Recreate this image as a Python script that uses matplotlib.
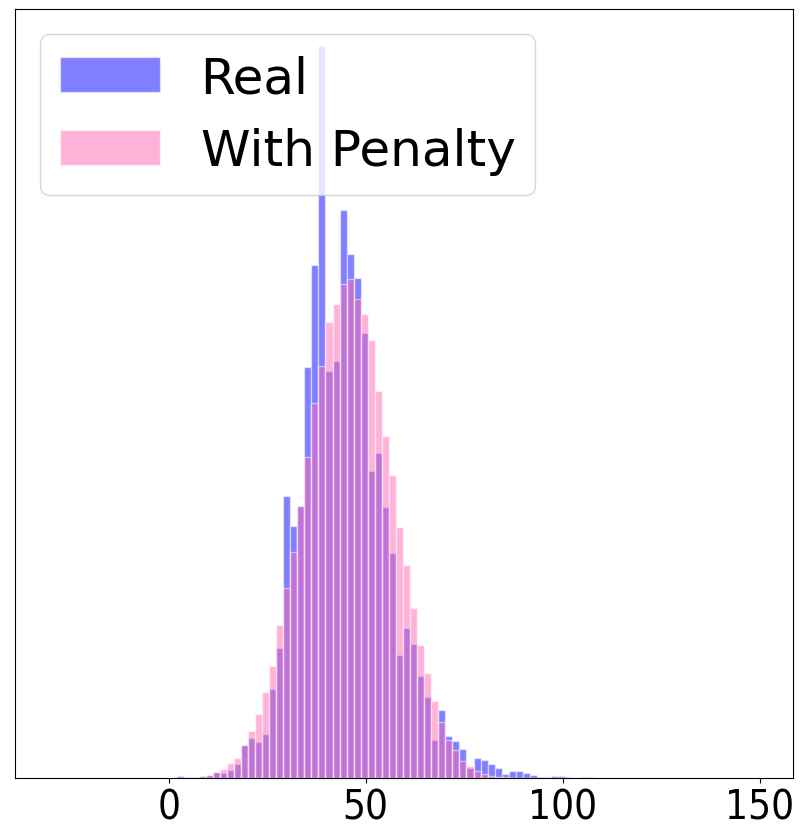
import numpy as np
import matplotlib
matplotlib.use("Agg")
import matplotlib.pyplot as plt

# bin grid shared by both histograms (100 bins)
bin_edges = np.linspace(-30, 149, 101)
first_bin = 18  # index of first non-empty bin

# heights (arbitrary units), bins 18..83
real = [1.5, 0.7, 0.5, 2.0, 3.2, 5.5, 5.2, 8.0, 14.2, 32.5,
        39.8, 35.8, 44.0, 89.2, 129.8, 281.5, 251.8, 272.0, 411.2, 513.2,
        732.0, 407.2, 417.2, 567.8, 523.5, 500.0, 445.2, 307.2, 325.0, 271.2,
        225.2, 123.0, 149.8, 134.2, 101.8, 80.8, 37.8, 67.8, 42.2, 36.8,
        28.8, 9.8, 19.8, 17.8, 13.8, 9.8, 3.8, 6.8, 6.8, 4.8,
        2.8, 1.0, 1.0, 1.8, 1.8, 0.8, 0.3, 0.8, 0.8, 0.3,
        0.3, 0.3, 0.0, 0.0, 0.3, 0.3]
with_penalty = [0.3, 0.7, 0.5, 2.0, 3.2, 5.8, 9.0, 15.0, 20.0, 32.8,
                46.8, 64.0, 86.0, 111.8, 152.8, 189.6, 226.2, 272.0, 321.2, 375.2,
                412.2, 455.8, 473.8, 494.2, 498.5, 479.2, 464.0, 437.8, 386.8, 341.8,
                302.8, 250.8, 212.8, 169.8, 132.8, 105.2, 76.8, 55.8, 37.8, 27.8,
                16.8, 11.8, 7.2, 4.2, 2.2, 1.2, 0.5]
with_penalty = with_penalty + [0.0] * (len(real) - len(with_penalty))

labels = ["Real", "With Penalty"]
x_ticks = [0, 50, 100, 150]

bin_width = bin_edges[1] - bin_edges[0]
centers = bin_edges[first_bin:first_bin + len(real)] + bin_width / 2

fig = plt.figure(figsize=(8.01, 8.37), dpi=100)
ax = fig.add_axes([15 / 801, 58 / 837, 778 / 801, 769 / 837])

ax.hist(centers, bins=bin_edges, weights=real, color="blue", alpha=0.5,
        edgecolor="white", linewidth=1, label=labels[0])
ax.hist(centers, bins=bin_edges, weights=with_penalty, color="hotpink", alpha=0.5,
        edgecolor="white", linewidth=1, label=labels[1])

ax.set_xlim(-39, 158.5)
ax.set_xticks(x_ticks)
for t in ax.set_xticklabels([str(v) for v in x_ticks]):
    t.set_fontfamily("DejaVu Sans")
    t.set_fontstretch("condensed")
    t.set_fontsize(29)
ax.set_yticks([])
ax.legend(loc="upper left", fontsize=36.1)

fig.savefig("out.png", dpi=100)
